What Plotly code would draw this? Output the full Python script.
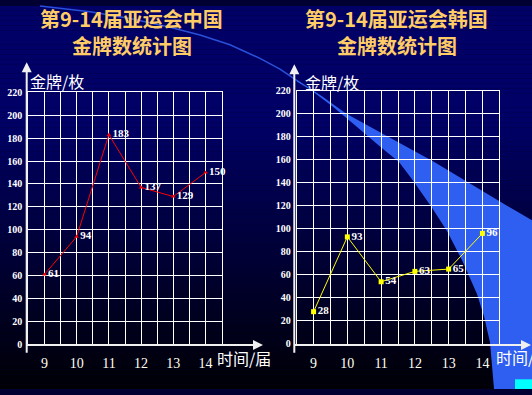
import plotly.graph_objects as go

W, H = 532, 395

# ---- data ----
sessions = [9, 10, 11, 12, 13, 14]
china_gold = [61, 94, 183, 137, 129, 150]
korea_gold = [28, 93, 54, 63, 65, 96]
y_ticks = list(range(0, 221, 20))
title_cn = ["第9-14届亚运会中国", "金牌数统计图"]
title_kr = ["第9-14届亚运会韩国", "金牌数统计图"]
y_title = "金牌/枚"
x_title = "时间/届"


def px(x):
    return x / W


def py(y):
    return 1 - y / H


def path(pts, close=True):
    s = "M {:.4f} {:.4f} ".format(px(pts[0][0]), py(pts[0][1]))
    for x, y in pts[1:]:
        s += "L {:.4f} {:.4f} ".format(px(x), py(y))
    if close:
        s += "Z"
    return s


fig = go.Figure()

shapes = []
# background gradient (stripes)
step = 5
for y0 in range(0, H, step):
    yc = y0 + step / 2
    if yc <= 120:
        b = 102
    else:
        b = 102 - 97 * (yc - 120) / (H - 120)
    shapes.append(dict(type="rect", xref="paper", yref="paper", x0=0, x1=1,
                       y0=py(y0 + step), y1=py(y0), line=dict(width=0),
                       fillcolor="rgb(0,0,{})".format(int(round(b))), layer="below"))

# decorative swoosh band
band = [(297, 76), (322, 93), (346, 111), (390, 136), (433, 160), (470, 183), (507, 206), (532, 221),
        (532, 395), (494, 395), (490, 347), (484, 320), (477, 297), (462, 262), (447, 232),
        (432, 208), (413, 180), (399, 161), (380, 145), (355, 123), (333, 104), (310, 86), (297, 78)]
shapes.append(dict(type="path", xref="paper", yref="paper", path=path(band),
                   fillcolor="#2f5ff0", line=dict(width=0), layer="below"))
# thin curved line
curve = [(40, 0), (90, 6), (130, 13), (170, 22), (200, 30), (230, 40), (260, 54), (280, 65), (297, 77)]
shapes.append(dict(type="path", xref="paper", yref="paper", path=path(curve, close=False),
                   line=dict(color="#2a4fd8", width=1.5), layer="below"))
# cyan box bottom right
shapes.append(dict(type="rect", xref="paper", yref="paper", x0=px(515), x1=1,
                   y0=0, y1=py(385), fillcolor="#00FFFF", line=dict(width=0), layer="below"))

fig.add_trace(go.Scatter(
    x=sessions, y=china_gold, mode="lines+markers+text",
    line=dict(color="#FF0000", width=1),
    marker=dict(symbol="triangle-up", size=4, color="#FF0000"),
    text=[str(v) for v in china_gold], textposition="middle right",
    textfont=dict(family="Liberation Serif", size=11, color="white", weight="bold"),
    xaxis="x", yaxis="y", showlegend=False, cliponaxis=False))

fig.add_trace(go.Scatter(
    x=sessions, y=korea_gold, mode="lines+markers+text",
    line=dict(color="#FFFF00", width=1),
    marker=dict(symbol="square", size=5, color="#FFFF00"),
    text=[str(v) for v in korea_gold], textposition="middle right",
    textfont=dict(family="Liberation Serif", size=11, color="white", weight="bold"),
    xaxis="x2", yaxis="y2", showlegend=False, cliponaxis=False))

grid_vals = [8.5 + 0.5 * i for i in range(13)]
grid_text = [str(int(v)) if v == int(v) else "" for v in grid_vals]

xcommon = dict(range=[8.5, 14.5], tickvals=grid_vals, ticktext=grid_text,
               showgrid=True, gridcolor="white", gridwidth=1,
               showline=True, mirror=True, linecolor="white", linewidth=1,
               zeroline=False, ticks="", ticklabelstandoff=6,
               tickfont=dict(family="Liberation Serif", size=14, color="#FFFFF0"))
ycommon = dict(range=[0, 220], tickvals=y_ticks,
               showgrid=True, gridcolor="white", gridwidth=1,
               showline=True, mirror=True, linecolor="white", linewidth=1,
               zeroline=False, ticks="", ticklabelstandoff=3,
               tickfont=dict(family="Liberation Serif", size=10, color="white", weight="bold"))

fig.update_layout(
    width=W, height=H, margin=dict(l=0, r=0, t=0, b=0),
    paper_bgcolor="#000033", plot_bgcolor="rgba(0,0,0,0)",
    xaxis=dict(domain=[px(28.3), px(221.7)], anchor="y", **xcommon),
    yaxis=dict(domain=[py(349), py(89)], anchor="x", **ycommon),
    xaxis2=dict(domain=[px(296.7), px(499.3)], anchor="y2", **xcommon),
    yaxis2=dict(domain=[py(348.5), py(87.3)], anchor="x2", **ycommon),
    shapes=shapes,
)

ann = []
# titles (one annotation per line)
for lines, cx in [(title_cn, 131.7), (title_kr, 396.7)]:
    for txt, cy in zip(lines, [12.5, 40.5]):
        ann.append(dict(text=txt, xref="paper", yref="paper", x=px(cx), y=py(cy), xanchor="center",
                        yanchor="middle", showarrow=False, borderpad=0,
                        font=dict(family="Noto Sans CJK SC", size=20, color="#FFCC66", weight="bold")))
# axis labels
for cx, cy in [(57, 77), (332, 78)]:
    ann.append(dict(text=y_title, xref="paper", yref="paper", x=px(cx), y=py(cy), xanchor="center",
                    yanchor="middle", showarrow=False,
                    font=dict(family="Noto Sans CJK SC", size=16, color="white")))
for lx, cy in [(215, 363), (494, 362)]:
    ann.append(dict(text=x_title, xref="paper", yref="paper", x=px(lx), y=py(cy), xanchor="left",
                    yanchor="middle", showarrow=False,
                    font=dict(family="Noto Sans CJK SC", size=16, color="white")))
# axis arrows
for (tx, ty, axo, ayo) in [(26.7, 58, 0, 292), (263, 349.5, -238, 0),
                           (294.3, 60, 0, 290), (531, 349.5, -238, 0)]:
    ann.append(dict(text="", xref="paper", yref="paper", x=px(tx), y=py(ty),
                    ax=axo, ay=ayo, showarrow=True, arrowhead=2, arrowsize=1,
                    arrowwidth=2, arrowcolor="#F0F0F0"))
fig.update_layout(annotations=ann)

fig.write_html("out.html", config={"displayModeBar": False},
               post_script="document.body.style.margin='0';document.body.style.overflow='hidden';")
